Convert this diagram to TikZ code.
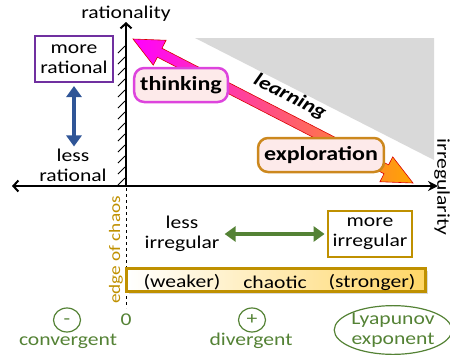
\documentclass[tikz,border=0pt]{standalone}
\usepackage{fontspec}
\setmainfont[FakeStretch=1.2]{Carlito}
\usetikzlibrary{calc,shapes,arrows.meta,shadows}
\definecolor{gold}{RGB}{191,144,0}
\definecolor{leaf}{RGB}{84,130,53}
\definecolor{ocean}{RGB}{47,85,151}
\definecolor{plum}{RGB}{112,48,160}
\definecolor{blush}{RGB}{253,234,234}
\definecolor{orchid}{RGB}{221,68,221}
\definecolor{amber}{RGB}{204,136,30}
\definecolor{flame}{RGB}{255,165,0}
\definecolor{cream}{RGB}{255,245,218}
\definecolor{sand}{RGB}{255,214,102}
\tikzset{
    txt/.style = {align=center, inner sep=0pt, font=\fontsize{18}{20}\selectfont},
    % Framed labels
    node_box/.style = {txt, draw, line width=2pt, inner xsep=5pt, minimum height=46pt},
    % Activity bubbles
    node_act/.style = {txt, rounded corners=10pt, line width=2.5pt, fill=blush, inner xsep=6pt, minimum height=34pt, font=\fontsize{20}{22}\selectfont\bfseries},
    % Green rings under the bar
    node_ring/.style = {txt, leaf, ellipse, draw, line width=1.2pt},
    node_sign/.style = {node_ring, minimum width=27pt, minimum height=24pt, text height=9pt, text depth=0pt},
    % Double headed arrows
    dbl/.style = {line width=4.5pt, {Triangle[width=15pt,length=11pt]}-{Triangle[width=15pt,length=11pt]}}
}

\begin{document}
\begin{tikzpicture}[x=1pt, y=-1pt]
    \useasboundingbox (0,0) rectangle (450,354);

    % grey corner and axes
    \fill[black!15] (195,38) -- (434,38) -- (434,160) -- cycle;
    \draw[line width=2pt, -{Straight Barb[length=5pt,width=11pt]}] (126,186) -- (126,22);
    \draw[line width=2pt, {Straight Barb[length=5pt,width=11pt]}-{Stealth[length=10pt,width=10pt]}] (12,186) -- (438,186);
    \foreach \y in {50,61,...,182}
        \draw[line width=1pt] (118,\y+3) -- (125,\y-4);
    \draw[dashed, line width=1pt] (126,188) -- (126,308);
    \node[txt] (rat) at (126,14) {rationality};
    \node[txt, rotate=-90] (irr) at (442,187) {irregularity};

    % learning arrow
    \coordinate (think_tip) at (133,39);
    \coordinate (expl_tip) at (413,183);
    \coordinate (h1) at ($(think_tip)!30pt!(expl_tip)$);
    \coordinate (h2) at ($(expl_tip)!30pt!(think_tip)$);
    \shadedraw[left color=magenta, middle color=red, right color=flame, draw=red!85!black, line width=0.6pt]
        (think_tip) -- ($(h1)!14pt!90:(expl_tip)$) -- ($(h1)!5pt!90:(expl_tip)$)
        -- ($(h2)!5pt!-90:(think_tip)$) -- ($(h2)!14pt!-90:(think_tip)$) -- (expl_tip)
        -- ($(h2)!14pt!90:(think_tip)$) -- ($(h2)!5pt!90:(think_tip)$)
        -- ($(h1)!5pt!-90:(expl_tip)$) -- ($(h1)!14pt!-90:(expl_tip)$) -- cycle;
    \node[txt, font=\fontsize{19}{21}\selectfont\bfseries\itshape, rotate=-27] (learn) at (290,97) {learning};
    \node[node_act, draw=orchid] (think) at (181,85) {thinking};
    \node[node_act, draw=amber] (expl) at (321,155) {exploration};

    % rationality scale
    \node[node_box, draw=plum] (more_rat) at (74,59) {more\\rational};
    \node[txt] (less_rat) at (73,165) {less\\rational};
    \draw[dbl, ocean, shorten <=3pt, shorten >=2pt] (more_rat.south) -- (more_rat.south |- less_rat.north);

    % irregularity scale
    \node[txt, gold, font=\fontsize{16}{18}\selectfont, rotate=90] (edge) at (116,250) {edge of chaos};
    \node[txt] (less_irr) at (182,234) {less\\irregular};
    \node[node_box, draw=gold] (more_irr) at (370,234) {more\\irregular};
    \draw[dbl, leaf, line width=4pt, shorten <=5pt, shorten >=2pt] (less_irr) -- (more_irr);

    % chaotic bar
    \node[draw=gold, line width=2.5pt, minimum width=299pt, minimum height=23pt,
        left color=white, middle color=cream, right color=sand,
        drop shadow={opacity=0.3, shadow xshift=2pt, shadow yshift=-2pt}] (bar) at (276,280) {};
    \node[txt] (weak) at (182,282) {(weaker)};
    \node[txt] (chaos) at (275,282) {chaotic};
    \node[txt] (strong) at (372,282) {(stronger)};

    % Lyapunov exponent
    \node[txt, leaf] (zero) at (126,320) {0};
    \node[node_sign] (minus) at (67,320) {-};
    \node[txt, leaf] (conv) at (68,341) {convergent};
    \node[node_sign] (plus) at (252,320) {+};
    \node[txt, leaf] (div) at (251,341) {divergent};
    \node[node_ring, minimum width=112pt, minimum height=46pt] (lyap) at (393,330) {Lyapunov\\exponent};
\end{tikzpicture}
\end{document}
